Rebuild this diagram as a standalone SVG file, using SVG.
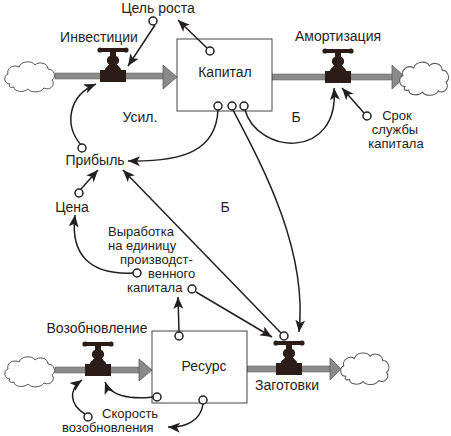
<svg xmlns="http://www.w3.org/2000/svg" xmlns:xlink="http://www.w3.org/1999/xlink" width="451" height="436" viewBox="0 0 451 436">
<style>
text{font-family:"Liberation Sans",Arial,sans-serif;font-size:14px;fill:#231f20}
.m{font-size:13px}
.c{text-anchor:middle}
.box{fill:#fff;stroke:#444;stroke-width:1}
.pipe{fill:#8a8a8a;stroke:#6a6a6a;stroke-width:0.6}
.head{fill:#8a8a8a;stroke:#5a5a5a;stroke-width:0.8}
.cloud{fill:#fff;stroke:#555;stroke-width:1}
.valve{fill:#2b1c17}
.link{fill:none;stroke:#231f20;stroke-width:1.5;marker-end:url(#ah)}
.dot{fill:#fff;stroke:#231f20;stroke-width:1.5}
</style>
<defs>
<marker id="ah" markerUnits="userSpaceOnUse" markerWidth="13" markerHeight="11" refX="12" refY="5" orient="auto">
<path d="M0,0 L12,5 L0,10 L3,5 Z" fill="#231f20"/>
</marker>
<path id="cloudShape" d="M8,26 C2,26 1,18 6,16 C4,10 12,6 17,9 C19,3 30,2 33,7 C37,3 46,5 46,11 C52,11 55,19 50,22 C54,27 48,33 42,30 C39,35 29,35 26,31 C22,35 12,34 12,29 C9,30 6,29 8,26 Z"/>
<g id="valveShape">
<rect x="-13" y="-6" width="26" height="12"/>
<path d="M-8,-6 C-8,-9 -4,-10 -4,-12 C-7,-13 -7,-19 -3,-20 L-3,-24 L3,-24 L3,-20 C7,-19 7,-13 4,-12 C4,-10 8,-9 8,-6 Z"/>
<rect x="-13" y="-28" width="26" height="4" rx="1"/>
<circle cx="-13" cy="-26" r="2.6"/>
<circle cx="13" cy="-26" r="2.6"/>
</g>
</defs>
<rect width="451" height="436" fill="#fff"/>

<g id="flows">
<rect class="pipe" x="55" y="73" width="109" height="6"/>
<polygon class="head" points="163,65 177,77 163,89"/>
<rect class="pipe" x="272" y="74" width="121" height="6"/>
<polygon class="head" points="392,65 405,77 392,89"/>
<rect class="pipe" x="55" y="367" width="85" height="6"/>
<polygon class="head" points="139,359 152,370 139,381"/>
<rect class="pipe" x="247" y="366" width="84" height="6"/>
<polygon class="head" points="330,358 341,369 330,380"/>
</g>

<g id="cloud-in-top"><use href="#cloudShape" class="cloud" transform="translate(2,58)"/></g>
<g id="cloud-out-top"><use href="#cloudShape" class="cloud" transform="translate(397,58) scale(0.98,1.1)"/></g>
<g id="cloud-in-bottom"><use href="#cloudShape" class="cloud" transform="translate(2,353)"/></g>
<g id="cloud-out-bottom"><use href="#cloudShape" class="cloud" transform="translate(338,349) scale(0.97,1.05)"/></g>

<g id="capital">
<rect class="box" x="177" y="39" width="95" height="72"/>
<text class="c" x="225" y="77">Капитал</text>
</g>
<g id="resource">
<rect class="box" x="152" y="331" width="95" height="72"/>
<text class="c" x="204" y="371">Ресурс</text>
</g>

<g id="investment">
<use href="#valveShape" class="valve" transform="translate(113,76)"/>
<text class="c" x="99" y="42">Инвестиции</text>
</g>
<g id="amortization">
<use href="#valveShape" class="valve" transform="translate(338,77)"/>
<text class="c" x="338" y="41">Амортизация</text>
</g>
<g id="renewal">
<use href="#valveShape" class="valve" transform="translate(98,370)"/>
<text class="c" x="97" y="333">Возобновление</text>
</g>
<g id="harvest">
<use href="#valveShape" class="valve" transform="translate(289,369)"/>
<text class="c" x="287" y="390">Заготовки</text>
</g>

<g id="growth-goal"><text class="c" x="158" y="13">Цель роста</text></g>
<g id="profit"><text class="c" x="95" y="165">Прибыль</text></g>
<g id="price"><text class="c" x="72" y="212">Цена</text></g>
<g id="lifetime">
<text class="c m" x="397" y="120">Срок</text>
<text class="c m" x="395" y="134">службы</text>
<text class="c m" x="396" y="148">капитала</text>
</g>
<g id="productivity">
<text class="m" x="108" y="236">Выработка</text>
<text class="m" x="108" y="250">на единицу</text>
<text class="m" x="120" y="264">производст-</text>
<text class="m" x="148" y="278">венного</text>
<text class="m" x="127" y="292">капитала</text>
</g>
<g id="renewal-rate">
<text class="m" x="102" y="418">Скорость</text>
<text class="m" x="62" y="432">возобновления</text>
</g>
<g id="loop-labels">
<text class="c" x="140" y="122">Усил.</text>
<text class="c" x="296" y="122">Б</text>
<text class="c" x="225" y="212">Б</text>
</g>

<g id="connectors">
<path class="link" d="M155,25 L128,66"/>
<path class="link" d="M207,48 L178,20"/>
<path class="link" d="M81,145 C64,125 68,96 96,84"/>
<path class="link" d="M218,110 C216,150 185,162 128,161"/>
<path class="link" d="M245,110 C258,155 340,160 334,88"/>
<path class="link" d="M364,113 L342,88"/>
<path class="link" d="M233,110 C262,165 308,250 299,332"/>
<path class="link" d="M81,189 L98,170"/>
<path class="link" d="M281,333 L123,170"/>
<path class="link" d="M133,273 C90,275 70,255 75,215"/>
<path class="link" d="M196,292 L272,337"/>
<path class="link" d="M179,332 L178,297"/>
<path class="link" d="M153,397 C128,400 110,395 105,382"/>
<path class="link" d="M203,404 C201,420 186,428 168,427"/>
<path class="link" d="M85,414 C70,405 68,390 82,380"/>
<circle class="dot" cx="153" cy="21" r="4"/>
<circle class="dot" cx="210" cy="51" r="4"/>
<circle class="dot" cx="82" cy="148" r="4"/>
<circle class="dot" cx="218" cy="106" r="4"/>
<circle class="dot" cx="232" cy="106" r="4"/>
<circle class="dot" cx="244" cy="106" r="4"/>
<circle class="dot" cx="367" cy="116" r="4"/>
<circle class="dot" cx="79" cy="193" r="4"/>
<circle class="dot" cx="284" cy="336" r="4"/>
<circle class="dot" cx="137" cy="273" r="4"/>
<circle class="dot" cx="192" cy="289" r="4"/>
<circle class="dot" cx="179" cy="336" r="4"/>
<circle class="dot" cx="157" cy="397" r="4"/>
<circle class="dot" cx="203" cy="400" r="4"/>
<circle class="dot" cx="88" cy="417" r="4"/>
</g>
</svg>
